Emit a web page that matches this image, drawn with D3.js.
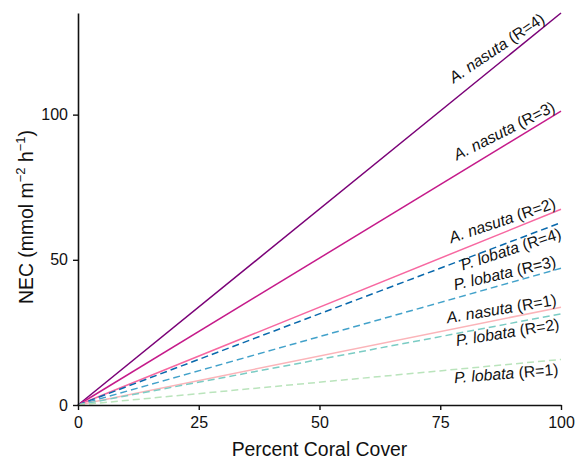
<!DOCTYPE html>
<html>
<head>
<meta charset="utf-8">
<script src="https://cdn.jsdelivr.net/npm/d3@7"></script>
<style>
  body { margin: 0; background: #fff; }
  text { font-family: "Liberation Sans", Arial, Helvetica, sans-serif; fill: #111; }
</style>
</head>
<body>
<svg id="chart" width="578" height="464"></svg>
<script>
// ---- data ----
const coverX = [0, 100];
const seriesNames = ["A. nasuta R=4", "A. nasuta R=3", "A. nasuta R=2", "P. lobata R=4",
                     "P. lobata R=3", "A. nasuta R=1", "P. lobata R=2", "P. lobata R=1"];
const species = ["A. nasuta", "A. nasuta", "A. nasuta", "P. lobata", "P. lobata", "A. nasuta", "P. lobata", "P. lobata"];
const ratio = [4, 3, 2, 4, 3, 1, 2, 1];
const necAt0 = [0, 0, 0, 0, 0, 0, 0, 0];
const necAt100 = [135, 101.2, 67.4, 62.8, 47.1, 33.7, 31.4, 15.7];
const xTicks = [0, 25, 50, 75, 100];
const yTicks = [0, 50, 100];

// ---- styles / label layout ----
const colors = ["#7a0177", "#c51b8a", "#f768a1", "#0868ac", "#43a2ca", "#fbb4b9", "#7bccc4", "#bae4bc"];
const dashed = [false, false, false, true, true, false, true, true];
const labelAbove = [true, true, true, false, true, true, false, false];
const labelEndX = [97.2, 99.3, 99.3, 99.3, 99.3, 99.3, 99.3, 99.3];

// ---- layout ----
const W = 578, H = 464;
const m = { left: 78, right: 17, top: 13, bottom: 59 };
const svg = d3.select("#chart");
const x = d3.scaleLinear().domain([0, 100]).range([m.left, W - m.right]);
const y = d3.scaleLinear().domain([0, 135]).range([H - m.bottom, m.top]);

const g = svg.append("g");
const line = d3.line().x(d => x(d[0])).y(d => y(d[1]));

seriesNames.forEach((name, i) => {
  const pts = [[coverX[0], necAt0[i]], [coverX[1], necAt100[i]]];
  g.append("path")
    .datum(pts)
    .attr("d", line)
    .attr("fill", "none")
    .attr("stroke", colors[i])
    .attr("stroke-width", 1.5)
    .attr("stroke-dasharray", dashed[i] ? "7,4" : null);

  const lx = labelEndX[i];
  const slope = (necAt100[i] - necAt0[i]) / (coverX[1] - coverX[0]);
  const px = x(lx), py = y(necAt0[i] + slope * lx);
  const pixSlope = (y(0) - y(slope * 100)) / (x(100) - x(0));
  const tilt = labelAbove[i] ? 0.83 : 0.86;
  const ang = Math.atan(pixSlope * tilt) * 180 / Math.PI;
  const t = g.append("text")
    .attr("transform", `translate(${px},${py}) rotate(${-ang})`)
    .attr("text-anchor", "end")
    .attr("dy", labelAbove[i] ? -3 : 15)
    .style("font-size", "15.8px");
  t.append("tspan").style("font-style", "italic").text(species[i]);
  t.append("tspan").text(" (R=" + ratio[i] + ")");
});

// axes
const xAxis = d3.axisBottom(x).tickValues(xTicks).tickSize(5).tickSizeOuter(0);
const yAxis = d3.axisLeft(y).tickValues(yTicks).tickSize(5).tickSizeOuter(0);

const gx = svg.append("g").attr("transform", `translate(0,${H - m.bottom})`).call(xAxis);
const gy = svg.append("g").attr("transform", `translate(${m.left},0)`).call(yAxis);
[gx, gy].forEach(a => {
  a.select(".domain").attr("stroke", "#111").attr("stroke-width", 1.6);
  a.selectAll(".tick line").attr("stroke", "#111").attr("stroke-width", 1.4);
  a.selectAll(".tick text").style("font-size", "16px").attr("fill", "#111");
});
gx.selectAll(".tick text").attr("dy", "0.94em");
gy.selectAll(".tick text").attr("dx", "-2px");

// axis titles
svg.append("text")
  .attr("x", (x(0) + x(100)) / 2)
  .attr("y", 456)
  .attr("text-anchor", "middle")
  .style("font-size", "19.4px")
  .text("Percent Coral Cover");

const yt = svg.append("text")
  .attr("transform", `translate(33,217) rotate(-90)`)
  .attr("text-anchor", "middle")
  .style("font-size", "19.4px");
yt.append("tspan").text("NEC (mmol m");
yt.append("tspan").attr("dy", -8).style("font-size", "13px").text("\u22122");
yt.append("tspan").attr("dy", 8).text(" h");
yt.append("tspan").attr("dy", -8).style("font-size", "13px").text("\u22121");
yt.append("tspan").attr("dy", 8).text(")");
</script>
</body>
</html>
